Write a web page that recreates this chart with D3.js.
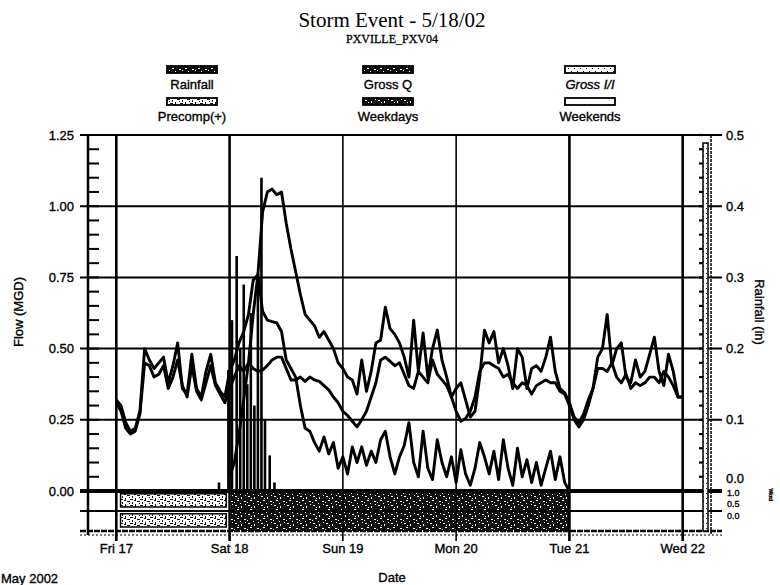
<!DOCTYPE html>
<html>
<head>
<meta charset="utf-8">
<script src="https://cdn.jsdelivr.net/npm/d3@7"></script>
<style>
body { margin: 0; background: #fff; }
svg { display: block; font-family: "Liberation Sans", Arial, sans-serif; }
</style>
</head>
<body>
<svg id="chart" width="780" height="585"></svg>
<script>
// hourly flow (MGD), Fri 17 00:00 -> Wed 22 00:00
var grossQ = [
	0.32,0.30,0.24,0.21,0.22,0.28,0.50,0.46,0.43,0.45,
	0.47,0.38,0.44,0.52,0.36,0.34,0.48,0.36,0.33,0.42,
	0.48,0.38,0.35,0.33,0.42,0.46,0.52,0.56,0.62,0.74,
	0.76,0.98,1.05,1.06,1.04,1.05,0.94,0.85,0.77,0.69,
	0.62,0.60,0.58,0.54,0.56,0.53,0.50,0.45,0.43,0.40,
	0.39,0.34,0.46,0.35,0.42,0.52,0.53,0.645,0.57,0.55,
	0.52,0.47,0.40,0.60,0.42,0.555,0.40,0.50,0.565,0.46,
	0.40,0.33,0.36,0.38,0.32,0.26,0.28,0.40,0.565,0.52,
	0.56,0.45,0.50,0.44,0.36,0.50,0.47,0.36,0.43,0.44,
	0.42,0.47,0.54,0.42,0.36,0.345,0.31,0.26,0.24,0.27,
	0.32,0.36,0.47,0.50,0.62,0.44,0.50,0.52,0.40,0.38,
	0.46,0.40,0.42,0.48,0.54,0.42,0.37,0.48,0.42,0.33,
	0.33
];
// dry weather flow for the same hours (weekday / weekend curve)
var dryFlow = [
	0.31,0.28,0.22,0.20,0.21,0.27,0.45,0.44,0.40,0.41,
	0.44,0.36,0.40,0.46,0.37,0.33,0.44,0.35,0.32,0.38,
	0.44,0.37,0.34,0.31,0.36,0.40,0.44,0.42,0.45,0.43,
	0.42,0.425,0.44,0.46,0.47,0.47,0.43,0.39,0.39,0.40,
	0.385,0.40,0.39,0.385,0.37,0.355,0.33,0.31,0.28,0.265,
	0.245,0.225,0.25,0.28,0.33,0.38,0.46,0.47,0.455,0.44,
	0.45,0.41,0.37,0.36,0.42,0.40,0.38,0.46,0.41,0.39,
	0.37,0.33,0.28,0.245,0.255,0.28,0.33,0.42,0.45,0.45,
	0.44,0.43,0.40,0.41,0.38,0.36,0.38,0.37,0.34,0.37,
	0.38,0.39,0.38,0.38,0.35,0.34,0.30,0.25,0.225,0.25,
	0.30,0.36,0.43,0.43,0.42,0.45,0.40,0.38,0.41,0.36,
	0.38,0.37,0.38,0.40,0.40,0.38,0.42,0.40,0.37,0.33,
	0.33
];
// gross I/I, Sat 18 00:00 -> Tue 21 00:00
var grossII = [
	0.05,0.10,0.20,0.32,0.45,0.62,0.76,0.63,0.60,0.595,
	0.59,0.56,0.46,0.43,0.40,0.30,0.22,0.21,0.17,0.14,
	0.19,0.13,0.17,0.08,0.12,0.06,0.155,0.10,0.155,0.09,
	0.14,0.10,0.18,0.21,0.12,0.06,0.12,0.16,0.24,0.10,
	0.05,0.21,0.08,0.04,0.18,0.10,0.05,0.12,0.03,0.145,
	0.06,0.02,0.08,0.17,0.12,0.06,0.14,0.04,0.18,0.08,
	0.02,0.15,0.05,0.11,0.03,0.10,0.02,0.08,0.14,0.04,
	0.12,0.03,0.00
];
// rainfall (in), hours after Fri 17 00:00
var rainHours  = [21.75, 23.75, 24.5, 25.5, 26.25, 27.0, 27.75, 28.5, 29.25, 30.0, 30.75, 31.5, 32.5, 33.5];
var rainInches = [0.012, 0.17, 0.24, 0.33, 0.20, 0.29, 0.15, 0.25, 0.12, 0.30, 0.44, 0.10, 0.05, 0.012];

var flowTicks = [0, 0.25, 0.5, 0.75, 1.0, 1.25];
var rainTicks = [0, 0.1, 0.2, 0.3, 0.4, 0.5];
var stripLabels = ["1.0", "0.5", "0.0"];
var legendRow1 = ["Rainfall", "Gross Q", "Gross I/I"];
var legendRow2 = ["Precomp(+)", "Weekdays", "Weekends"];

var t0 = new Date(2002, 4, 17, 0);
function hr(h) { return new Date(t0.getTime() + h * 3600000); }

var svg = d3.select("#chart");
var x = d3.scaleTime()
		.domain([new Date(2002, 4, 16, 18), new Date(2002, 4, 22, 6)])
		.range([88, 711]);
var yFlow = d3.scaleLinear().domain([0, 1.25]).range([491, 135]);
var yRain = d3.scaleLinear().domain([0, 0.5]).range([491, 135]);
var yStrip = d3.scaleLinear().domain([0, 1]).range([531, 491]);

var days = d3.timeDay.range(new Date(2002, 4, 17), new Date(2002, 4, 23));
var fmtDay = d3.timeFormat("%a %d");

// ---- textures standing in for the scanned fills
var defs = svg.append("defs");
function pattern(id, w, h, bg, fg, bits) {
	var p = defs.append("pattern").attr("id", id)
			.attr("patternUnits", "userSpaceOnUse")
			.attr("width", w).attr("height", h);
	p.append("rect").attr("width", w).attr("height", h).attr("fill", bg);
	bits.forEach(function(b) {
		p.append("rect").attr("x", b[0]).attr("y", b[1])
				.attr("width", b[2]).attr("height", b[3]).attr("fill", fg);
	});
}
pattern("noise", 13, 9, "#111", "#fff",
	[[1,1,2,1],[7,2,1,2],[3,5,2,1],[10,6,2,1],[0,7,1,1],[6,8,1,1],[11,0,1,1],[4,3,1,1]]);
pattern("hatch", 10, 6, "#fff", "#111",
	[[0,1,3,1],[5,0,1,3],[7,3,3,1],[2,4,1,2],[4,2,2,1],[9,5,1,1]]);
pattern("dots", 6, 5, "#fff", "#222", [[1,1,1,1],[4,3,1,1]]);

// ---- lower strip (flag bands below zero)
var strip = svg.append("g");
strip.selectAll("rect.flag")
		.data([0.55, 0.05])
		.enter()
		.append("rect")
		.attr("class", "flag")
		.attr("x", x(hr(0.9)))
		.attr("width", x(hr(23.3)) - x(hr(0.9)))
		.attr("y", function(d) { return yStrip(d + 0.38); })
		.attr("height", yStrip(0) - yStrip(0.33))
		.attr("fill", "url(#hatch)")
		.attr("stroke", "#000")
		.attr("stroke-width", 1.5);
strip.append("rect")
		.attr("x", x(hr(24.3)))
		.attr("width", x(hr(96)) - x(hr(24.3)))
		.attr("y", yStrip(1))
		.attr("height", yStrip(0) - yStrip(1))
		.attr("fill", "url(#noise)");

// ---- grid
var grid = svg.append("g").attr("stroke", "#000");
grid.selectAll("line.h")
		.data(flowTicks)
		.enter()
		.append("line")
		.attr("x1", 80).attr("x2", 722)
		.attr("y1", function(d) { return yFlow(d); })
		.attr("y2", function(d) { return yFlow(d); })
		.attr("stroke-width", function(d) { return d === 0 ? 4 : 2; });
grid.selectAll("line.s")
		.data([0.5, 0])
		.enter()
		.append("line")
		.attr("x1", 80).attr("x2", 722)
		.attr("y1", function(d) { return yStrip(d); })
		.attr("y2", function(d) { return yStrip(d); })
		.attr("stroke-width", function(d) { return d === 0 ? 2.5 : 2; })
		.attr("stroke-dasharray", function(d) { return d === 0 ? "6,1" : null; });
grid.selectAll("line.v")
		.data(days)
		.enter()
		.append("line")
		.attr("x1", function(d) { return x(d); })
		.attr("x2", function(d) { return x(d); })
		.attr("y1", 135).attr("y2", 541)
		.attr("stroke-width", function(d) { var w = d.getDay(); return (w === 0 || w === 1) ? 1.6 : 2.6; });

// ---- rainfall bars
svg.append("g").selectAll("rect")
		.data(rainHours)
		.enter()
		.append("rect")
		.attr("x", function(d) { return x(hr(d)) - 1.3; })
		.attr("width", 2.6)
		.attr("y", function(d, i) { return yRain(rainInches[i]); })
		.attr("height", function(d, i) { return yRain(0) - yRain(rainInches[i]); })
		.attr("fill", "#000");

// ---- flow lines
var line = d3.line()
		.x(function(d) { return x(d[0]); })
		.y(function(d) { return yFlow(d[1]); });
var series = [
	dryFlow.map(function(v, i) { return [hr(i), v]; }),
	grossQ.map(function(v, i) { return [hr(i), v]; }),
	grossII.map(function(v, i) { return [hr(24 + i), v]; })
];
svg.append("g").selectAll("path")
		.data(series)
		.enter()
		.append("path")
		.attr("d", line)
		.attr("fill", "none")
		.attr("stroke", "#000")
		.attr("stroke-width", 2.9)
		.attr("stroke-linejoin", "round");

// ---- frame / axes
var frame = svg.append("g").attr("stroke", "#000");
frame.append("line").attr("x1", 88).attr("x2", 88).attr("y1", 135).attr("y2", 535).attr("stroke-width", 2.5);
frame.append("line").attr("x1", 711).attr("x2", 711).attr("y1", 135).attr("y2", 535).attr("stroke-width", 1.5).attr("stroke-dasharray", "3,1");
frame.append("rect").attr("x", 703).attr("y", 143).attr("width", 5).attr("height", 388)
		.attr("fill", "url(#dots)").attr("stroke-width", 1.5);
frame.selectAll("line.ml")
		.data(d3.range(0, 1.2501, 0.05))
		.enter()
		.append("line")
		.attr("x1", 88).attr("x2", 99)
		.attr("y1", function(d) { return yFlow(d); })
		.attr("y2", function(d) { return yFlow(d); })
		.attr("stroke-width", 2);
frame.selectAll("line.mr")
		.data(d3.range(0, 0.5001, 0.02))
		.enter()
		.append("line")
		.attr("x1", 699).attr("x2", 703)
		.attr("y1", function(d) { return yRain(d); })
		.attr("y2", function(d) { return yRain(d); })
		.attr("stroke-width", 2.2);
frame.append("line").attr("x1", 80).attr("x2", 722).attr("y1", 535).attr("y2", 535)
		.attr("stroke-width", 1.2).attr("stroke-dasharray", "2,2");

var txt = svg.append("g").attr("fill", "#000").attr("stroke", "#000").attr("stroke-width", 0.35);

// left tick labels
txt.selectAll("text.yl")
		.data(flowTicks)
		.enter()
		.append("text")
		.attr("x", 74)
		.attr("y", function(d) { return yFlow(d) + 4.5; })
		.attr("text-anchor", "end")
		.attr("font-size", 13)
		.text(function(d) { return d3.format(".2f")(d); });
// right tick labels
txt.selectAll("text.yr")
		.data(rainTicks)
		.enter()
		.append("text")
		.attr("x", 726)
		.attr("y", function(d) { return d === 0 ? yRain(d) - 8 : yRain(d) + 4.5; })
		.attr("font-size", 13)
		.text(function(d) { return d3.format(".1f")(d); });
txt.selectAll("text.st")
		.data(stripLabels)
		.enter()
		.append("text")
		.attr("x", 727)
		.attr("y", function(d, i) { return [496, 507, 519][i]; })
		.attr("font-size", 9)
		.text(function(d) { return d; });
// day labels
txt.selectAll("text.x")
		.data(days)
		.enter()
		.append("text")
		.attr("x", function(d) { return x(d); })
		.attr("y", 553)
		.attr("text-anchor", "middle")
		.attr("font-size", 13)
		.text(function(d) { return fmtDay(d); });
txt.append("text").attr("x", 1).attr("y", 583).attr("font-size", 13).text("May 2002");
txt.append("text").attr("x", 392).attr("y", 582).attr("text-anchor", "middle").attr("font-size", 13).text("Date");
txt.append("text").attr("transform", "translate(23,312) rotate(-90)")
		.attr("text-anchor", "middle").attr("font-size", 13).text("Flow (MGD)");
txt.append("text").attr("transform", "translate(755,312) rotate(90)")
		.attr("text-anchor", "middle").attr("font-size", 13).text("Rainfall (in)");
txt.append("text").attr("transform", "translate(769,495) rotate(90)")
		.attr("text-anchor", "middle").attr("font-size", 5).text("Wknd");

// title
svg.append("text").attr("x", 392).attr("y", 27).attr("text-anchor", "middle")
		.attr("font-family", "'Liberation Serif', 'Times New Roman', serif")
		.attr("font-size", 21).text("Storm Event - 5/18/02");
svg.append("text").attr("x", 392).attr("y", 43).attr("text-anchor", "middle")
		.attr("font-family", "'Liberation Serif', 'Times New Roman', serif")
		.attr("font-size", 12).attr("stroke", "#000").attr("stroke-width", 0.3)
		.text("PXVILLE_PXV04");

// legend
var cols = [192, 388, 590];
var fills = [["url(#noise)", "url(#noise)", "url(#dots)"], ["url(#hatch)", "url(#noise)", "#fff"]];
[legendRow1, legendRow2].forEach(function(row, r) {
	var g = svg.append("g");
	g.selectAll("rect")
			.data(row)
			.enter()
			.append("rect")
			.attr("x", function(d, i) { return cols[i] - 25; })
			.attr("y", 66 + r * 32)
			.attr("width", 50).attr("height", 7)
			.attr("fill", function(d, i) { return fills[r][i]; })
			.attr("stroke", "#000").attr("stroke-width", 1.8);
	g.selectAll("text")
			.data(row)
			.enter()
			.append("text")
			.attr("x", function(d, i) { return cols[i]; })
			.attr("y", 89 + r * 32)
			.attr("text-anchor", "middle")
			.attr("font-size", 13)
			.attr("font-style", function(d) { return d === "Gross I/I" ? "italic" : null; })
			.attr("stroke", "#000").attr("stroke-width", 0.35)
			.text(function(d) { return d; });
});
</script>
</body>
</html>
